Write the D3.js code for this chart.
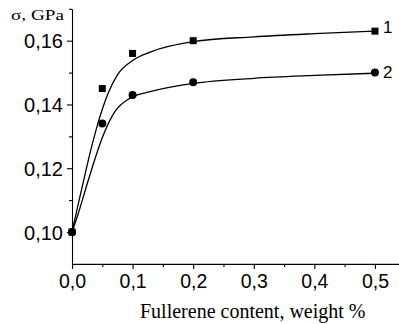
<!DOCTYPE html>
<html>
<head>
<meta charset="utf-8">
<script src="https://cdn.jsdelivr.net/npm/d3@7"></script>
<style>
  body { margin: 0; background: #fff; }
  svg { display: block; }
  .tick text { font-family: "Liberation Sans", Arial, sans-serif; }
</style>
</head>
<body>
<div id="chart"></div>
<script>
// measured points, fullerene content (weight %) vs strength (GPa)
const content = [0, 0.05, 0.1, 0.2, 0.5];
const series1 = [0.100, 0.145, 0.156, 0.160, 0.163];
const series2 = [0.100, 0.134, 0.143, 0.147, 0.150];

// fitted curves, points
const fit1X = [0, 0.01, 0.02, 0.03, 0.04, 0.05, 0.06, 0.075, 0.1, 0.13, 0.2, 0.3, 0.4, 0.5];
const fit1Y = [0.100, 0.1085, 0.1168, 0.1250, 0.1322, 0.1385, 0.1437, 0.1493, 0.1538, 0.1565, 0.1597, 0.1612, 0.1622, 0.1630];
const fit2X = [0, 0.0105, 0.027, 0.0517, 0.071, 0.0957, 0.129, 0.2, 0.3, 0.4, 0.5];
const fit2Y = [0.100, 0.1059, 0.1163, 0.1304, 0.1378, 0.1420, 0.1440, 0.1466, 0.1482, 0.1491, 0.1498];

const xTicks = [0, 0.1, 0.2, 0.3, 0.4, 0.5];
const xMinor = [0.05, 0.15, 0.25, 0.35, 0.45];
const yTicks = [0.10, 0.12, 0.14, 0.16];
const yMinor = [0.11, 0.13, 0.15, 0.17];

const width = 399, height = 324;

const svg = d3.select("#chart").append("svg")
  .attr("width", width)
  .attr("height", height);

const x = d3.scaleLinear().domain([0, 0.54]).range([72, 399.2]);
const y = d3.scaleLinear().domain([0.09, 0.17]).range([263.9, 8.8]);

const comma = f => v => d3.format(f)(v).replace(".", ",");

// minor ticks first, then major axes on top
svg.append("g")
  .attr("transform", "translate(0,263.9)")
  .call(d3.axisBottom(x).tickValues(xMinor).tickSize(3).tickFormat(""))
  .call(g => g.select(".domain").remove());
svg.append("g")
  .attr("transform", "translate(72,0)")
  .call(d3.axisLeft(y).tickValues(yMinor).tickSize(3).tickFormat(""))
  .call(g => g.select(".domain").remove());

const xAxis = svg.append("g")
  .attr("transform", "translate(0,263.9)")
  .call(d3.axisBottom(x).tickValues(xTicks).tickSize(5).tickSizeOuter(0).tickPadding(4)
    .tickFormat(comma(".1f")));
xAxis.selectAll("text").attr("font-size", 19.5).attr("dy", "0.75em");

const yAxis = svg.append("g")
  .attr("transform", "translate(72,0)")
  .call(d3.axisLeft(y).tickValues(yTicks).tickSize(5).tickSizeOuter(0).tickPadding(4)
    .tickFormat(comma(".2f")));
yAxis.selectAll("text").attr("font-size", 20).attr("dy", "0.35em");

svg.selectAll(".domain, .tick line").attr("stroke", "#000").attr("stroke-width", 1.1);

// fitted lines
const line = d3.line()
  .x(d => x(d[0]))
  .y(d => y(d[1]))
  .curve(d3.curveMonotoneX);

[[fit1X, fit1Y], [fit2X, fit2Y]].forEach(([xs, ys]) => {
  svg.append("path")
    .datum(d3.zip(xs, ys))
    .attr("fill", "none")
    .attr("stroke", "#000")
    .attr("stroke-width", 1.3)
    .attr("d", line);
});

// markers
svg.append("g").selectAll("rect")
  .data(d3.zip(content, series1))
  .join("rect")
  .attr("x", d => x(d[0]) - 3.5)
  .attr("y", d => y(d[1]) - 3.5)
  .attr("width", 7)
  .attr("height", 7)
  .attr("fill", "#000");

svg.append("g").selectAll("circle")
  .data(d3.zip(content, series2))
  .join("circle")
  .attr("cx", d => x(d[0]))
  .attr("cy", d => y(d[1]))
  .attr("r", 4)
  .attr("fill", "#000");

// curve labels
svg.append("text")
  .attr("x", 383)
  .attr("y", 32.5)
  .attr("font-family", "Liberation Sans, Arial, sans-serif")
  .attr("font-size", 17)
  .text("1");
svg.append("text")
  .attr("x", 383)
  .attr("y", 78)
  .attr("font-family", "Liberation Sans, Arial, sans-serif")
  .attr("font-size", 17)
  .text("2");

// axis titles
svg.append("text")
  .attr("x", 11)
  .attr("y", 20)
  .attr("font-family", "Liberation Serif, Times New Roman, serif")
  .attr("font-size", 14.5)
  .attr("textLength", 53)
  .attr("lengthAdjust", "spacingAndGlyphs")
  .text("σ, GPa");

svg.append("text")
  .attr("x", 140)
  .attr("y", 318)
  .attr("font-family", "Liberation Serif, Times New Roman, serif")
  .attr("font-size", 20)
  .text("Fullerene content, weight %");
</script>
</body>
</html>
